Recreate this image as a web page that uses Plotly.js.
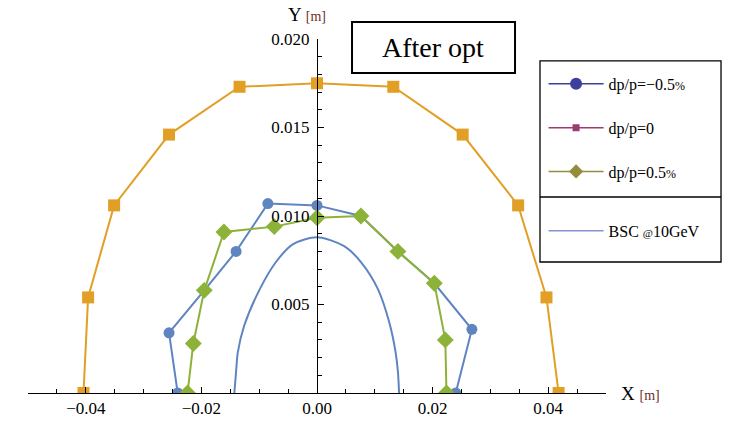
<!DOCTYPE html>
<html>
<head>
<meta charset="utf-8">
<script src="https://cdn.plot.ly/plotly-3.0.1.min.js"></script>
<style>html,body{margin:0;padding:0;background:#fff;}#chart{width:730px;height:422px;}</style>
</head>
<body>
<div id="chart"></div>
<script>
// Data
var bscX = [-0.0143, -0.0140, -0.0137, -0.0126, -0.0100, -0.0071, -0.0042, 0, 0.0047, 0.0076, 0.0105, 0.0125, 0.0136, 0.0140, 0.0142];
var bscY = [0, 0.0012, 0.0023, 0.0038, 0.0058, 0.0074, 0.0084, 0.0088, 0.0083, 0.0074, 0.0059, 0.0040, 0.0023, 0.0012, 0];

var zeroX = [-0.0404, -0.0396, -0.0351, -0.0256, -0.0134, 0, 0.0132, 0.0252, 0.0348, 0.0397, 0.0418];
var zeroY = [0, 0.0054, 0.0106, 0.0146, 0.0173, 0.0175, 0.0173, 0.0146, 0.0106, 0.0054, 0];

var minusX = [-0.0241, -0.0256, -0.0195, -0.0140, -0.0085, 0, 0.0076, 0.0140, 0.0203, 0.0268, 0.0240];
var minusY = [0, 0.0034, 0.0058, 0.0080, 0.0107, 0.0106, 0.0100, 0.0080, 0.0062, 0.0036, 0];

var plusX = [-0.0224, -0.0214, -0.0195, -0.0161, -0.0074, 0, 0.0076, 0.0140, 0.0203, 0.0222, 0.0224];
var plusY = [0, 0.0028, 0.0058, 0.0091, 0.0094, 0.0099, 0.0100, 0.0080, 0.0062, 0.0030, 0];

var legendNames = ["dp/p=\u22120.5<span style='font-size:12px'>%</span>", "dp/p=0", "dp/p=0.5<span style='font-size:12px'>%</span>", "BSC <span style='font-size:11px'>@</span>10GeV"];

var xTickVals = [-0.04, -0.02, 0, 0.02, 0.04];
var xTickText = ["\u22120.04", "\u22120.02", "0.00", "0.02", "0.04"];
var yTickVals = [0.005, 0.010, 0.015, 0.020];
var yTickText = ["0.005", "0.010", "0.015", "0.020"];

var serif = "'Liberation Serif', 'DejaVu Serif', serif";
var cBlue = "#5E85C0", cOrange = "#E29F26", cGreen = "#8DB23A";

var traces = [
  {x: bscX, y: bscY, mode: "lines", line: {color: cBlue, width: 2, shape: "spline", smoothing: 0.8}, showlegend: false, hoverinfo: "skip"},
  {x: zeroX, y: zeroY, mode: "lines+markers", line: {color: cOrange, width: 2}, marker: {symbol: "square", size: 12, color: cOrange}, showlegend: false},
  {x: minusX, y: minusY, mode: "lines+markers", line: {color: cBlue, width: 2}, marker: {symbol: "circle", size: 11, color: cBlue}, showlegend: false},
  {x: plusX, y: plusY, mode: "lines+markers", line: {color: cGreen, width: 2}, marker: {symbol: "diamond", size: 13, color: cGreen}, showlegend: false},
  // legend entries (styled as in the reference legend)
  {x: [null], y: [null], name: legendNames[0], mode: "lines+markers", line: {color: "#3B3F9E", width: 1.5}, marker: {symbol: "circle", size: 12, color: "#3B3F9E"}, legendgroup: "a", legend: "legend"},
  {x: [null], y: [null], name: legendNames[1], mode: "lines+markers", line: {color: "#9E3A70", width: 1.5}, marker: {symbol: "square", size: 7, color: "#9E3A70"}, legendgroup: "b", legend: "legend"},
  {x: [null], y: [null], name: legendNames[2], mode: "lines+markers", line: {color: "#948D3C", width: 1.5}, marker: {symbol: "diamond", size: 11, color: "#948D3C"}, legendgroup: "c", legend: "legend"},
  {x: [null], y: [null], name: legendNames[3], mode: "lines", line: {color: "#8A90D2", width: 1.5}, legend: "legend2"}
];

var layout = {
  width: 730, height: 422,
  margin: {l: 28, r: 124, t: 39, b: 29},
  paper_bgcolor: "#fff", plot_bgcolor: "#fff",
  font: {family: serif, size: 16, color: "#000"},
  xaxis: {
    range: [-0.05, 0.05], showgrid: false, zeroline: false,
    showline: true, linecolor: "#000", linewidth: 1,
    tickmode: "array", tickvals: xTickVals, ticktext: xTickText,
    ticks: "inside", ticklen: 6, tickcolor: "#000",
    minor: {dtick: 0.005, tick0: 0, ticks: "inside", ticklen: 4, tickcolor: "#000"},
    tickfont: {family: serif, size: 17, color: "#000"}
  },
  yaxis: {
    range: [0, 0.020], showgrid: false, zeroline: false,
    anchor: "free", position: 0.5,
    showline: true, linecolor: "#000", linewidth: 1,
    tickmode: "array", tickvals: yTickVals, ticktext: yTickText,
    ticks: "inside", ticklen: 6, tickcolor: "#000", ticklabelstandoff: 4,
    minor: {dtick: 0.001, tick0: 0, ticks: "inside", ticklen: 4, tickcolor: "#000"},
    tickfont: {family: serif, size: 17, color: "#000"}
  },
  legend: {x: 0.892, y: 0.921, xanchor: "left", yanchor: "top", bgcolor: "rgba(0,0,0,0)", borderwidth: 0, itemwidth: 55,
           font: {family: serif, size: 16, color: "#000"}, traceorder: "grouped", tracegroupgap: 20},
  legend2: {x: 0.892, y: 0.506, xanchor: "left", yanchor: "top", bgcolor: "rgba(0,0,0,0)", borderwidth: 0, itemwidth: 55,
            font: {family: serif, size: 16, color: "#000"}},
  shapes: [
    {type: "rect", xref: "paper", yref: "paper", x0: 0.5606, x1: 0.8426, y0: 0.904, y1: 1.048, line: {color: "#000", width: 2}, fillcolor: "#fff", layer: "above"},
    {type: "rect", xref: "paper", yref: "paper", x0: 0.8858, x1: 1.199, y0: 0.370, y1: 0.938, line: {color: "#000", width: 1.3}, fillcolor: "rgba(0,0,0,0)"},
    {type: "line", xref: "paper", yref: "paper", x0: 0.8858, x1: 1.199, y0: 0.5537, y1: 0.5537, line: {color: "#000", width: 1.3}}
  ],
  annotations: [
    {xref: "paper", yref: "paper", x: 0.7007, y: 0.977, text: "After opt", showarrow: false, font: {family: serif, size: 28, color: "#000"}, xanchor: "center", yanchor: "middle"},
    {xref: "paper", yref: "paper", x: 0.4827, y: 1.068, text: "Y <span style='font-size:14px;color:#6B2F1F'>[m]</span>", showarrow: false, font: {family: serif, size: 19, color: "#000"}, xanchor: "center", yanchor: "middle"},
    {xref: "paper", yref: "paper", x: 1.059, y: 0.0, text: "X <span style='font-size:14px;color:#6B2F1F'>[m]</span>", showarrow: false, font: {family: serif, size: 19, color: "#000"}, xanchor: "center", yanchor: "middle"}
  ]
};

Plotly.newPlot("chart", traces, layout, {staticPlot: true, displayModeBar: false});
</script>
</body>
</html>
